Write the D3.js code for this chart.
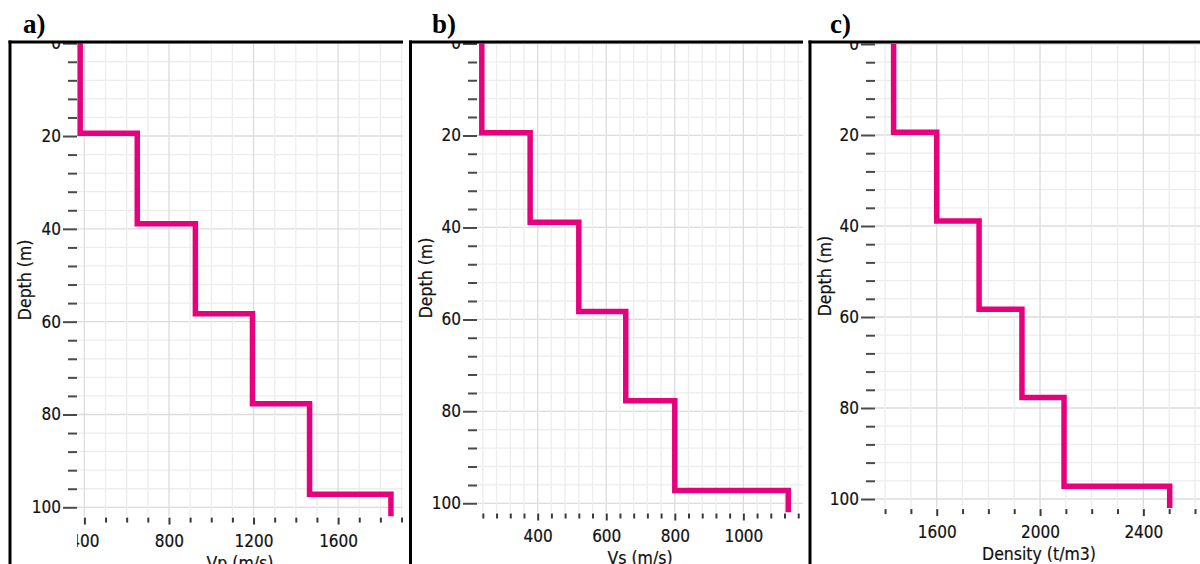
<!DOCTYPE html>
<html>
<head>
<meta charset="utf-8">
<script src="https://cdn.jsdelivr.net/npm/d3@7"></script>
<style>
  html, body { margin: 0; padding: 0; background: #fff; }
  svg { display: block; }
  .tick text { font-family: "DejaVu Sans Condensed", "Open Sans", sans-serif; font-size: 17px; fill: #111; stroke: #111; stroke-width: 0.2px; }
  .title { font-family: "DejaVu Sans Condensed", "Open Sans", sans-serif; font-size: 17.5px; fill: #111; stroke: #111; stroke-width: 0.2px; }
  .panel-tag { font-family: "Liberation Serif", "Times New Roman", serif; font-weight: bold; font-size: 27px; fill: #000; }
</style>
</head>
<body>
<script>
// Layer model: depth of the top of each layer (m) and the bottom of the profile
const layerTops = [0, 19.4, 38.9, 58.3, 77.7, 97.2];
const profileBottom = 102;

// Layer properties
const vpValues = [380, 650, 925, 1195, 1465, 1850];        // P-wave velocity (m/s)
const vsValues = [237, 378, 520, 657, 800, 1131];          // S-wave velocity (m/s)
const densityValues = [1433, 1600, 1764, 1930, 2093, 2502]; // density (t/m3)

// Tick labels
const depthTickLabels = [0, 20, 40, 60, 80, 100];
const vpTickLabels = [400, 800, 1200, 1600];
const vsTickLabels = [400, 600, 800, 1000];
const densityTickLabels = [1600, 2000, 2400];

// Minor tick steps
const depthMinorStep = 4;
const vpMinorTicks = d3.range(400, 1901, 100);
const vsMinorTicks = d3.range(240, 1161, 40);
const densityMinorTicks = d3.range(1400, 2601, 100);

const W = 1200, H = 564, FRAME_TOP = 42;

const svg = d3.select("body").append("svg")
  .attr("width", W).attr("height", H);

const panels = [
  { tag: "a)", tagX: 23, values: vpValues, xTitle: "Vp (m/s)",
    major: vpTickLabels, minor: vpMinorTicks,
    frameX: 10, right: 403, left: 77, xDomain: [365, 1907], y0: 43.2, y100: 507.3 },
  { tag: "b)", tagX: 432, values: vsValues, xTitle: "Vs (m/s)",
    major: vsTickLabels, minor: vsMinorTicks,
    frameX: 410.5, right: 803, left: 477, xDomain: [223, 1174], y0: 43.5, y100: 503.3 },
  { tag: "c)", tagX: 830, values: densityValues, xTitle: "Density (t/m3)",
    major: densityTickLabels, minor: densityMinorTicks,
    frameX: 810, right: 1203, left: 875, xDomain: [1361, 2631], y0: 44, y100: 499 }
];

const defs = svg.append("defs");

panels.forEach((p, i) => {
  const x = d3.scaleLinear().domain(p.xDomain).range([p.left, p.right]);
  const y = d3.scaleLinear().domain([0, 100]).range([p.y0, p.y100]);
  const bottom = y(profileBottom);
  const visRight = Math.min(p.right, W);

  // clip regions: whole panel frame, plot area, and x tick label band
  defs.append("clipPath").attr("id", "frame" + i).append("rect")
    .attr("x", p.frameX).attr("y", FRAME_TOP)
    .attr("width", visRight - p.frameX).attr("height", H - FRAME_TOP);
  defs.append("clipPath").attr("id", "plot" + i).append("rect")
    .attr("x", p.left).attr("y", FRAME_TOP)
    .attr("width", visRight - p.left).attr("height", bottom - FRAME_TOP);
  defs.append("clipPath").attr("id", "xlab" + i).append("rect")
    .attr("x", p.left).attr("y", FRAME_TOP)
    .attr("width", visRight - p.left).attr("height", H - FRAME_TOP);

  const g = svg.append("g").attr("clip-path", `url(#frame${i})`);
  const plot = g.append("g").attr("clip-path", `url(#plot${i})`);

  // grid
  const depthGrid = d3.range(0, 100 + 0.001, depthMinorStep);
  plot.selectAll(".hgrid").data(depthGrid).join("line")
    .attr("x1", p.left).attr("x2", visRight)
    .attr("y1", d => y(d)).attr("y2", d => y(d))
    .attr("stroke", d => d % 20 === 0 ? "#dcdcdc" : "#ededed")
    .attr("stroke-width", 1.3);
  plot.selectAll(".vgrid").data(p.minor).join("line")
    .attr("x1", d => x(d)).attr("x2", d => x(d))
    .attr("y1", FRAME_TOP).attr("y2", bottom)
    .attr("stroke", d => p.major.includes(d) ? "#dcdcdc" : "#ededed")
    .attr("stroke-width", 1.3);

  // step profile
  const pts = [];
  p.values.forEach((v, k) => {
    const top = layerTops[k];
    const bot = k + 1 < layerTops.length ? layerTops[k + 1] : profileBottom;
    pts.push([v, top], [v, bot]);
  });
  plot.append("path")
    .datum(pts)
    .attr("d", d3.line().x(d => x(d[0])).y(d => y(d[1])))
    .attr("fill", "none")
    .attr("stroke", "#e6007e")
    .attr("stroke-width", 5.5)
    .attr("stroke-linejoin", "miter");

  // y axis (depth)
  const yMinor = depthGrid.filter(d => d % 20 !== 0);
  const yMinorAxis = g.append("g").attr("transform", `translate(${p.left},0)`)
    .call(d3.axisLeft(y).tickValues(yMinor).tickSize(9).tickFormat(""));
  const yAxis = g.append("g").attr("transform", `translate(${p.left},0)`)
    .call(d3.axisLeft(y).tickValues(depthTickLabels).tickSize(14).tickPadding(2).tickFormat(d3.format("d")));
  [yMinorAxis, yAxis].forEach(a => {
    a.attr("font-family", null).attr("font-size", null);
    a.select(".domain").remove();
    a.selectAll(".tick line").attr("stroke", "#4a4a4a").attr("stroke-width", 2);
  });

  // x axis, its labels cut at the plot's left edge
  const xAxisG = g.append("g").attr("clip-path", `url(#xlab${i})`);
  const xMinorAxis = xAxisG.append("g").attr("transform", `translate(0,${bottom})`)
    .call(d3.axisBottom(x).tickValues(p.minor.filter(d => !p.major.includes(d))).tickSize(6).tickFormat(""));
  const xTicks = xAxisG.append("g").attr("transform", `translate(0,${bottom})`)
    .call(d3.axisBottom(x).tickValues(p.major).tickSize(8).tickFormat(d3.format("d")));
  [xMinorAxis, xTicks].forEach(a => {
    a.attr("font-family", null).attr("font-size", null);
    a.select(".domain").remove();
    a.selectAll(".tick line").attr("stroke", "#3a3a3a").attr("stroke-width", 2).attr("y1", 1);
  });
  xTicks.selectAll(".tick text").attr("dy", null).attr("y", 30);

  // titles
  g.append("text").attr("class", "title")
    .attr("transform", `translate(${p.frameX + 15},${(p.y0 + bottom) / 2}) rotate(-90)`)
    .attr("text-anchor", "middle").attr("dy", "0.35em")
    .text("Depth (m)");
  g.append("text").attr("class", "title")
    .attr("x", (p.left + p.right) / 2).attr("y", bottom + 52)
    .attr("text-anchor", "middle")
    .text(p.xTitle);

  // frame (left and top borders)
  svg.append("line")
    .attr("x1", p.frameX).attr("x2", p.frameX)
    .attr("y1", FRAME_TOP - 1.5).attr("y2", H)
    .attr("stroke", "#000").attr("stroke-width", 3);
  svg.append("line")
    .attr("x1", p.frameX - 1.5).attr("x2", visRight)
    .attr("y1", FRAME_TOP).attr("y2", FRAME_TOP)
    .attr("stroke", "#000").attr("stroke-width", 3);

  // panel tag
  svg.append("text").attr("class", "panel-tag")
    .attr("x", p.tagX).attr("y", 33)
    .text(p.tag);
});
</script>
</body>
</html>
